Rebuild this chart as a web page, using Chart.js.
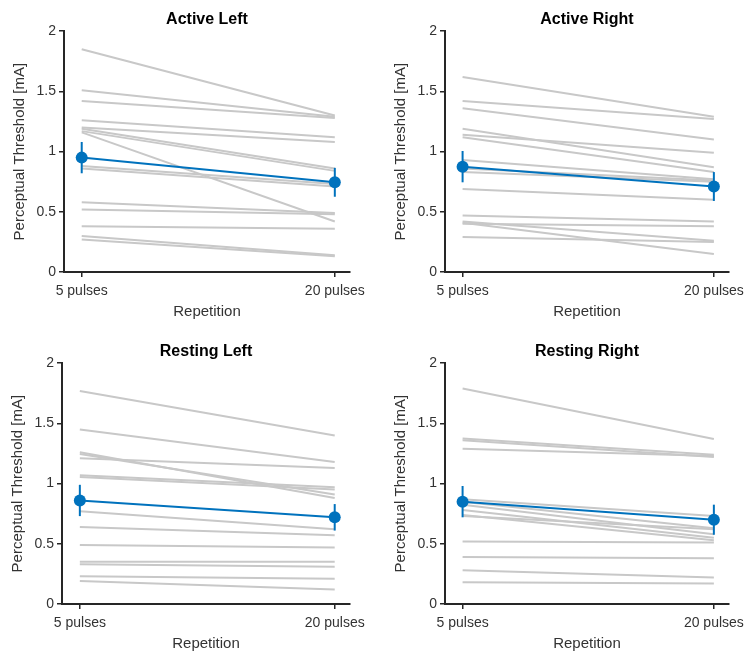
<!DOCTYPE html>
<html lang="en">
<head>
<meta charset="UTF-8">
<title>Perceptual threshold by repetition</title>
<script src="https://cdn.jsdelivr.net/npm/chart.js"></script>
<style>
  body { margin: 0; background: #fff; }
  .panel { position: absolute; }
</style>
</head>
<body>
<div class="panel" style="left:0;top:0"><canvas id="c1" width="375" height="324"></canvas></div>
<div class="panel" style="left:375px;top:0"><canvas id="c2" width="376" height="324"></canvas></div>
<div class="panel" style="left:0;top:332px"><canvas id="c3" width="375" height="324"></canvas></div>
<div class="panel" style="left:375px;top:332px"><canvas id="c4" width="376" height="324"></canvas></div>
<script>
// categories on the x axis
const repetitions = ['5 pulses', '20 pulses'];

// Active Left: one value per subject
const activeLeft5  = [1.85, 1.51, 1.42, 1.26, 1.20, 1.19, 1.17, 1.16, 0.88, 0.86, 0.58, 0.52, 0.38, 0.30, 0.27];
const activeLeft20 = [1.30, 1.29, 1.28, 1.12, 1.08, 0.86, 0.84, 0.42, 0.73, 0.71, 0.49, 0.48, 0.36, 0.14, 0.13];
const activeLeftMean = [0.95, 0.745];
const activeLeftErr  = [0.13, 0.12];

// Active Right
const activeRight5  = [1.62, 1.42, 1.36, 1.19, 1.14, 1.12, 0.93, 0.86, 0.83, 0.69, 0.47, 0.42, 0.41, 0.40, 0.29];
const activeRight20 = [1.29, 1.27, 1.10, 0.87, 0.99, 0.83, 0.77, 0.76, 0.75, 0.60, 0.42, 0.26, 0.15, 0.38, 0.25];
const activeRightMean = [0.875, 0.71];
const activeRightErr  = [0.13, 0.12];

// Resting Left
const restingLeft5  = [1.77, 1.45, 1.26, 1.245, 1.21, 1.07, 1.055, 0.77, 0.64, 0.49, 0.35, 0.33, 0.23, 0.19];
const restingLeft20 = [1.40, 1.18, 0.88, 0.91, 1.13, 0.97, 0.95, 0.62, 0.57, 0.47, 0.35, 0.31, 0.21, 0.12];
const restingLeftMean = [0.86, 0.72];
const restingLeftErr  = [0.13, 0.11];

// Resting Right
const restingRight5  = [1.79, 1.375, 1.36, 1.29, 0.87, 0.85, 0.825, 0.78, 0.74, 0.73, 0.52, 0.39, 0.28, 0.18];
const restingRight20 = [1.37, 1.24, 1.22, 1.23, 0.73, 0.63, 0.58, 0.55, 0.53, 0.62, 0.51, 0.38, 0.22, 0.17];
const restingRightMean = [0.85, 0.70];
const restingRightErr  = [0.13, 0.125];

const BLUE = '#0072BD';
const GREY = '#c8c8c8';
const AXIS = '#262626';
const FONT = "'Liberation Sans', Arial, sans-serif";

// vertical error bars on the mean dataset
const errorBars = {
  id: 'errorBars',
  afterDatasetsDraw(chart) {
    const opts = chart.options.plugins.errorBars;
    if (!opts) return;
    const { ctx, scales: { x, y } } = chart;
    ctx.save();
    ctx.strokeStyle = BLUE;
    ctx.lineWidth = 2;
    opts.mean.forEach((m, i) => {
      const px = x.getPixelForValue(i);
      ctx.beginPath();
      ctx.moveTo(px, y.getPixelForValue(m - opts.err[i]));
      ctx.lineTo(px, y.getPixelForValue(m + opts.err[i]));
      ctx.stroke();
    });
    ctx.restore();
  }
};

function drawPanel(id, title, pre, post, mean, err, padLeft, padRight) {
  const datasets = pre.map((v, i) => ({
    data: [{ x: 0, y: v }, { x: 1, y: post[i] }],
    borderColor: GREY,
    borderWidth: 2,
    pointRadius: 0,
    order: 2
  }));
  datasets.push({
    data: mean.map((m, i) => ({ x: i, y: m })),
    borderColor: BLUE,
    backgroundColor: BLUE,
    borderWidth: 2,
    pointRadius: 6,
    pointBorderWidth: 0,
    order: 0
  });

  new Chart(document.getElementById(id), {
    type: 'line',
    data: { datasets },
    plugins: [errorBars],
    options: {
      responsive: false,
      animation: false,
      layout: { padding: { left: padLeft, right: padRight, top: 0, bottom: 0 } },
      plugins: {
        legend: { display: false },
        tooltip: { enabled: false },
        title: {
          display: true,
          fullSize: false,
          text: title,
          color: '#000',
          font: { family: FONT, size: 16, weight: 'bold' },
          padding: { top: 10, bottom: 2 }
        },
        errorBars: { mean, err }
      },
      scales: {
        x: {
          type: 'linear',
          min: -0.07,
          max: 1.06,
          afterBuildTicks: s => { s.ticks = repetitions.map((_, i) => ({ value: i })); },
          afterFit: s => { s.height = 52; },
          border: { display: true, color: AXIS, width: 2 },
          grid: { drawOnChartArea: false, drawTicks: true, tickLength: 5, color: AXIS, lineWidth: 1.5 },
          ticks: {
            callback: v => repetitions[v],
            color: '#333',
            padding: 6,
            maxRotation: 0,
            font: { family: FONT, size: 14 }
          },
          title: {
            display: true,
            text: 'Repetition',
            color: '#333',
            font: { family: FONT, size: 15 },
            padding: { top: 2, bottom: 3 }
          }
        },
        y: {
          min: 0,
          max: 2,
          afterFit: s => { s.width = 62; },
          border: { display: true, color: AXIS, width: 2 },
          grid: { drawOnChartArea: false, drawTicks: true, tickLength: 5, color: AXIS, lineWidth: 1.5 },
          ticks: {
            stepSize: 0.5,
            callback: v => String(v),
            color: '#333',
            padding: 3,
            font: { family: FONT, size: 14 }
          },
          title: {
            display: true,
            text: 'Perceptual Threshold [mA]',
            color: '#333',
            font: { family: FONT, size: 15 },
            padding: { top: 9, bottom: 2 }
          }
        }
      }
    }
  });
}

drawPanel('c1', 'Active Left', activeLeft5, activeLeft20, activeLeftMean, activeLeftErr, 2, 25);
drawPanel('c2', 'Active Right', activeRight5, activeRight20, activeRightMean, activeRightErr, 8, 16);
drawPanel('c3', 'Resting Left', restingLeft5, restingLeft20, restingLeftMean, restingLeftErr, 0, 25);
drawPanel('c4', 'Resting Right', restingRight5, restingRight20, restingRightMean, restingRightErr, 8, 15);
</script>
</body>
</html>
